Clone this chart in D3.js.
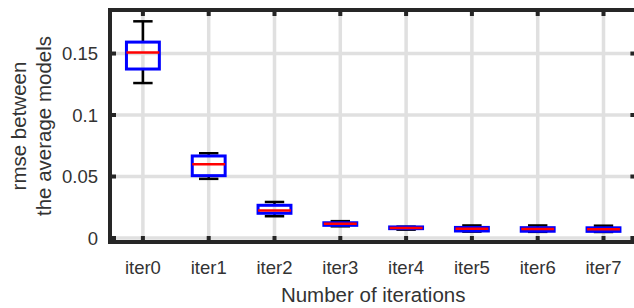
<!DOCTYPE html>
<html><head><meta charset="utf-8">
<script src="https://cdn.jsdelivr.net/npm/d3@7"></script>
<style>body{margin:0;background:#fff}svg{display:block}</style>
</head><body>
<svg id="c" width="634" height="308"></svg>
<script>
const categories = ["iter0","iter1","iter2","iter3","iter4","iter5","iter6","iter7"];
const whiskerHigh = [0.1762, 0.0689, 0.0293, 0.0137, 0.0092, 0.0102, 0.0102, 0.0100];
const q3Values    = [0.1593, 0.0667, 0.0266, 0.0124, 0.0090, 0.0086, 0.0084, 0.0083];
const medians     = [0.1508, 0.0599, 0.0224, 0.0116, 0.0082, 0.0076, 0.0073, 0.0071];
const q1Values    = [0.1374, 0.0507, 0.0201, 0.0103, 0.0076, 0.0057, 0.0055, 0.0054];
const whiskerLow  = [0.1260, 0.0481, 0.0177, 0.0095, 0.0068, 0.0052, 0.0050, 0.0049];
const yTicks = [0, 0.05, 0.1, 0.15];
const yTickLabels = ["0", "0.05", "0.1", "0.15"];
const xLabel = "Number of iterations";
const yLabelLines = ["rmse between", "the average models"];

(function () {
const svg = d3.select("#c");
const pL = 110, pR = 636.4, pT = 10, pB = 242;
const x = d3.scaleLinear().domain([0.5, categories.length + 0.5]).range([pL, pR]);
const y = d3.scaleLinear().domain([-0.00325, 0.1854]).range([pB, pT]);
const axisColor = "#262626", textColor = "#333", gridColor = "#e0e0e0";
const font = "'Liberation Sans', Arial, Helvetica, sans-serif";

// grid
const g = svg.append("g");
g.selectAll(".gx").data(categories).enter().append("line")
  .attr("x1", (d,i)=>x(i+1)).attr("x2", (d,i)=>x(i+1))
  .attr("y1", pT).attr("y2", pB)
  .attr("stroke", gridColor).attr("stroke-width", 3.5);
g.selectAll(".gy").data(yTicks).enter().append("line")
  .attr("x1", pL).attr("x2", pR)
  .attr("y1", d=>y(d)).attr("y2", d=>y(d))
  .attr("stroke", gridColor).attr("stroke-width", 3.5);

// boxes
const bw = 0.5, cw = 0.295;
const data = categories.map((c,i)=>({c, i, hi: whiskerHigh[i], q3: q3Values[i], med: medians[i], q1: q1Values[i], lo: whiskerLow[i]}));
const bx = svg.append("g");
data.forEach(d => {
  const cx = x(d.i+1);
  const w = x(bw) - x(0), c = x(cw) - x(0);
  bx.append("line").attr("x1", cx).attr("x2", cx).attr("y1", y(d.hi)).attr("y2", y(d.q3))
    .attr("stroke", "#000").attr("stroke-width", 2.5);
  bx.append("line").attr("x1", cx).attr("x2", cx).attr("y1", y(d.q1)).attr("y2", y(d.lo))
    .attr("stroke", "#000").attr("stroke-width", 2.5);
  bx.append("line").attr("x1", cx - c/2).attr("x2", cx + c/2).attr("y1", y(d.hi)).attr("y2", y(d.hi))
    .attr("stroke", "#000").attr("stroke-width", 2.5);
  bx.append("line").attr("x1", cx - c/2).attr("x2", cx + c/2).attr("y1", y(d.lo)).attr("y2", y(d.lo))
    .attr("stroke", "#000").attr("stroke-width", 2.5);
  bx.append("rect").attr("x", cx - w/2).attr("width", w)
    .attr("y", y(d.q3)).attr("height", Math.max(0.5, y(d.q1) - y(d.q3)))
    .attr("fill", "none").attr("stroke", "#0000ff").attr("stroke-width", 3);
  bx.append("line").attr("x1", cx - w/2).attr("x2", cx + w/2).attr("y1", y(d.med)).attr("y2", y(d.med))
    .attr("stroke", "#ff0000").attr("stroke-width", 2.5);
});

// axes box
const ax = svg.append("g").attr("stroke", axisColor).attr("stroke-width", 4);
ax.append("line").attr("x1", pL).attr("x2", pR + 2).attr("y1", pT).attr("y2", pT);
ax.append("line").attr("x1", pL - 2).attr("x2", pR + 2).attr("y1", pB).attr("y2", pB);
ax.append("line").attr("x1", pL).attr("x2", pL).attr("y1", pT - 2).attr("y2", pB + 2);
ax.append("line").attr("x1", pR).attr("x2", pR).attr("y1", pT - 2).attr("y2", pB + 2);
const tl = 6;
categories.forEach((c,i) => {
  ax.append("line").attr("x1", x(i+1)).attr("x2", x(i+1)).attr("y1", pB).attr("y2", pB - tl);
  ax.append("line").attr("x1", x(i+1)).attr("x2", x(i+1)).attr("y1", pT).attr("y2", pT + tl);
});
yTicks.forEach(t => {
  ax.append("line").attr("x1", pL).attr("x2", pL + tl).attr("y1", y(t)).attr("y2", y(t));
  ax.append("line").attr("x1", pR).attr("x2", pR - tl).attr("y1", y(t)).attr("y2", y(t));
});

// tick labels
const tx = svg.append("g").attr("font-family", font).attr("fill", textColor).attr("font-size", 18.5);
tx.selectAll(".xl").data(categories).enter().append("text")
  .attr("x", (d,i)=>x(i+1)).attr("y", 274).attr("text-anchor", "middle").text(d=>d);
tx.selectAll(".yl").data(yTicks).enter().append("text")
  .attr("x", 98).attr("y", d=>y(d) + 6.8).attr("text-anchor", "end").text((d,i)=>yTickLabels[i]);

// axis labels
svg.append("text").attr("font-family", font).attr("fill", textColor).attr("font-size", 20.5)
  .attr("x", (pL + pR)/2).attr("y", 302).attr("text-anchor", "middle").text(xLabel);
const yl = svg.append("text").attr("font-family", font).attr("fill", textColor).attr("font-size", 20.5)
  .attr("text-anchor", "middle").attr("transform", "translate(0,126) rotate(-90)");
yLabelLines.forEach((t,i) => yl.append("tspan").attr("x", 0).attr("y", 26 + i*25).text(t));
})();
</script>
</body></html>
